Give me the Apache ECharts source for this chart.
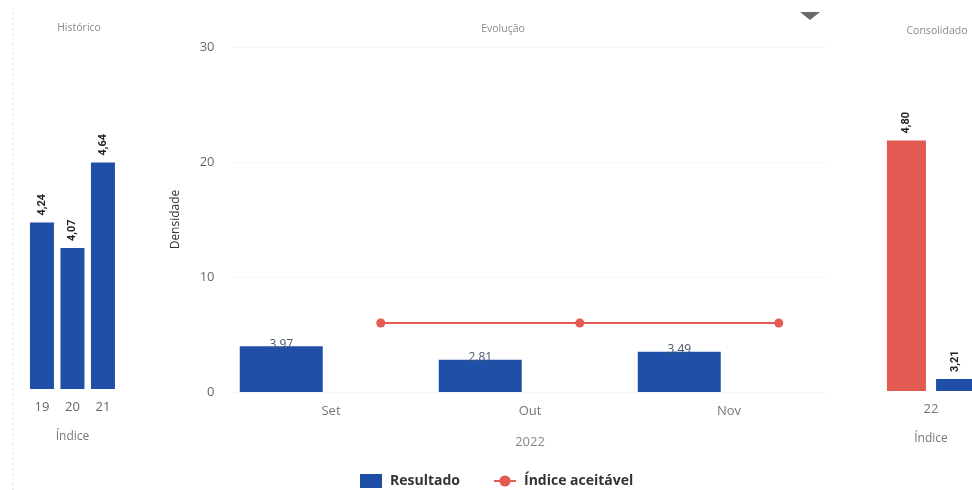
<!DOCTYPE html>
<html>
<head>
<meta charset="utf-8">
<script src="https://cdn.jsdelivr.net/npm/echarts@6/dist/echarts.min.js"></script>
<style>
  html, body { margin: 0; padding: 0; background: #fff; }
  #chart { width: 972px; height: 490px; }
</style>
</head>
<body>
<div id="chart"></div>
<script>
// ---- Data ----
const histCategories = ['19', '20', '21'];
const histValues = [4.24, 4.07, 4.64];

const evoMonths = ['Set', 'Out', 'Nov'];
const evoResultado = [3.97, 2.81, 3.49];
const evoIndiceAceitavel = [6, 6, 6];
const evoYTicks = [0, 10, 20, 30];

const consCategories = ['22'];
const consIndice = [4.80];
const consResultado = [3.21];

// ---- Helpers ----
const BLUE = '#1f4fa6';
const RED = '#e25a52';
const FONT = 'Open Sans';
const comma = p => p.value.toFixed(2).replace('.', ',');

// evolution: each month split in two slots (bar slot, line slot)
const evoSlots = evoMonths.flatMap(m => [m + '_r', m + '_i']);
const evoBarData = evoResultado.flatMap(v => [v, null]);
const evoLineData = evoIndiceAceitavel.flatMap(v => [null, v]);

const vLabel = {
  show: true, position: 'top', rotate: 90, align: 'left', verticalAlign: 'middle',
  distance: 7, fontFamily: 'Roboto', fontWeight: 'bold', fontSize: 11, color: '#222',
  formatter: comma
};
const titleStyle = { fontSize: 10.5, fontWeight: 'normal', color: '#8a8a8a', fontFamily: FONT };

const chart = echarts.init(document.getElementById('chart'));
chart.setOption({
  animation: false,
  textStyle: { fontFamily: FONT },
  title: [
    { text: 'Histórico', left: 74, top: 18, textAlign: 'center', textStyle: titleStyle },
    { text: 'Evolução', left: 498, top: 19, textAlign: 'center', textStyle: titleStyle },
    { text: 'Consolidado', left: 932, top: 21, textAlign: 'center', textStyle: titleStyle }
  ],
  legend: {
    left: 355, top: 469,
    itemWidth: 22, itemHeight: 14, itemGap: 33,
    textStyle: { fontSize: 14, fontWeight: 'bold', color: '#333', fontFamily: FONT, padding: [0, 0, 0, 3] },
    data: [{ name: 'Resultado', icon: 'rect' }, { name: 'Índice aceitável' }]
  },
  grid: [
    { left: 26.7, top: 108.5, width: 91.5, height: 280.5, outerBoundsMode: 'none' },
    { left: 231.5, top: 47, width: 597, height: 345, outerBoundsMode: 'none' },
    { left: 876, top: 110.5, width: 110, height: 280.5, outerBoundsMode: 'none' }
  ],
  xAxis: [
    { type: 'category', gridIndex: 0, data: histCategories,
      axisLine: { show: false }, axisTick: { show: false },
      axisLabel: { color: '#666', fontSize: 13, margin: 12 },
      name: 'Índice', nameLocation: 'middle', nameGap: 42,
      nameTextStyle: { color: '#777', fontSize: 12 } },
    { type: 'category', gridIndex: 1, data: evoMonths,
      axisLine: { show: false }, axisTick: { show: false },
      axisLabel: { color: '#777', fontSize: 13, margin: 13 },
      name: '2022', nameLocation: 'middle', nameGap: 44,
      nameTextStyle: { color: '#888', fontSize: 13 } },
    { type: 'category', gridIndex: 1, data: evoSlots, show: false },
    { type: 'category', gridIndex: 2, data: consCategories,
      axisLine: { show: false }, axisTick: { show: false },
      axisLabel: { color: '#777', fontSize: 13, margin: 12 },
      name: 'Índice', nameLocation: 'middle', nameGap: 42,
      nameTextStyle: { color: '#777', fontSize: 12 } }
  ],
  yAxis: [
    { type: 'value', gridIndex: 0, min: 3.13, max: 5, show: false },
    { type: 'value', gridIndex: 1, min: evoYTicks[0], max: evoYTicks[evoYTicks.length - 1],
      interval: evoYTicks[1] - evoYTicks[0],
      axisLine: { show: false }, axisTick: { show: false },
      axisLabel: { color: '#666', fontSize: 13, margin: 17 },
      splitLine: { lineStyle: { color: '#f1f1f1', type: 'dotted' } },
      name: 'Densidade', nameLocation: 'middle', nameGap: 50,
      nameTextStyle: { color: '#333', fontSize: 12 } },
    { type: 'value', gridIndex: 2, min: 3.13, max: 5, show: false }
  ],
  series: [
    { name: 'Resultado', type: 'bar', xAxisIndex: 0, yAxisIndex: 0,
      data: histValues, barWidth: 24, itemStyle: { color: BLUE }, label: vLabel },
    { name: 'Resultado', type: 'bar', xAxisIndex: 2, yAxisIndex: 1,
      data: evoBarData, barWidth: 83, itemStyle: { color: BLUE },
      label: { show: true, position: 'top', distance: -4, color: '#4a5870', fontSize: 12,
               formatter: p => p.value.toFixed(2) } },
    { name: 'Índice aceitável', type: 'line', xAxisIndex: 2, yAxisIndex: 1,
      data: evoLineData, connectNulls: true, symbol: 'circle', symbolSize: 9,
      lineStyle: { color: RED, width: 2 }, itemStyle: { color: RED } },
    { name: 'Índice aceitável', type: 'bar', xAxisIndex: 3, yAxisIndex: 2,
      data: consIndice, barWidth: 39, barGap: '26%', itemStyle: { color: RED }, label: vLabel },
    { name: 'Resultado', type: 'bar', xAxisIndex: 3, yAxisIndex: 2,
      data: consResultado, barWidth: 39, barGap: '26%', itemStyle: { color: BLUE }, label: vLabel }
  ],
  graphic: [
    { type: 'line', shape: { x1: 13, y1: 8, x2: 13, y2: 490 },
      style: { stroke: '#dddddd', lineWidth: 1, lineDash: [2, 3] } },
    { type: 'polygon', shape: { points: [[800, 12], [820, 12], [810, 20]] },
      style: { fill: '#6a6a6a' } }
  ]
});
</script>
</body>
</html>
